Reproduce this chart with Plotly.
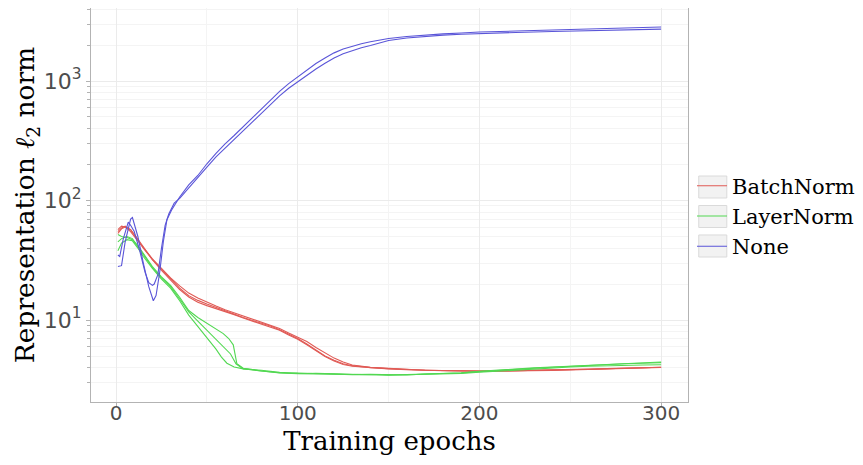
import plotly.graph_objects as go

# ---------------- data ----------------
# None (no normalisation), two seeds
none_a_epoch = [1, 3, 5, 8, 9, 12, 15, 18, 20.5, 22, 24, 26, 28, 30.5, 35, 40, 45, 50, 55, 60, 65, 70, 75, 80, 85,
                90, 95, 100, 105, 110, 115, 120, 125, 130, 135, 140, 150, 160, 170, 180, 190, 200, 220, 240, 260, 280, 300]
none_a_val = [28, 28.5, 45, 70, 72, 50, 30, 19, 14.5, 16, 25, 45, 69, 83, 107, 135, 162, 203, 248, 298, 350, 415, 492, 590, 700,
              820, 950, 1080, 1230, 1400, 1560, 1720, 1850, 1960, 2050, 2130, 2270, 2360, 2430, 2480, 2520, 2570, 2620, 2680, 2730, 2780, 2830]

none_b_epoch = [1, 2, 4, 6.7, 8, 10, 13, 16, 18, 20, 21, 23, 25, 27, 29, 32, 35, 40, 45, 50, 55, 60, 65, 70, 75, 80, 85,
                90, 95, 100, 105, 110, 115, 120, 125, 130, 135, 140, 150, 160, 170, 180, 190, 200, 220, 240, 260, 280, 300]
none_b_val = [35, 34, 48, 66, 62, 55, 38, 25, 20.5, 19.5, 20, 24, 40, 62, 77, 95, 104, 128, 155, 190, 232, 275, 325, 382, 455, 540, 640,
              750, 870, 990, 1120, 1260, 1410, 1560, 1690, 1800, 1900, 1980, 2180, 2290, 2370, 2420, 2460, 2480, 2550, 2600, 2640, 2680, 2720]

# BatchNorm, three seeds
bn_epoch = [1, 3, 5, 8, 11, 15, 20, 25, 30, 35, 40, 45, 50, 55, 60, 65, 70, 75, 80, 85, 90, 95, 100, 105, 110,
            115, 120, 125, 130, 140, 150, 160, 170, 180, 190, 200, 220, 240, 260, 280, 300]
bn1_val = [55, 59, 61, 57, 49, 40, 32, 26.5, 22, 18.5, 16, 14.6, 13.6, 12.7, 11.9, 11.2, 10.5, 9.9, 9.4, 8.9, 8.3, 7.6, 7.0, 6.3, 5.6,
           5.0, 4.6, 4.3, 4.15, 4.0, 3.92, 3.85, 3.8, 3.77, 3.75, 3.74, 3.76, 3.8, 3.87, 3.95, 4.02]
bn2_val = [57, 61, 60, 55, 48, 40.5, 32.5, 27, 22.5, 19.3, 16.8, 15.3, 14.1, 13.1, 12.2, 11.5, 10.8, 10.1, 9.6, 9.1, 8.5, 7.8, 7.2, 6.6, 5.9,
           5.3, 4.8, 4.45, 4.2, 4.02, 3.93, 3.86, 3.8, 3.78, 3.76, 3.75, 3.77, 3.81, 3.88, 3.96, 4.03]
bn3_val = [53, 58, 60, 57, 50, 41, 32, 26, 21.5, 18, 15.6, 14.1, 13.2, 12.5, 11.8, 11.1, 10.4, 9.8, 9.3, 8.8, 8.2, 7.5, 6.9, 6.2, 5.5,
           4.95, 4.55, 4.25, 4.1, 3.98, 3.9, 3.84, 3.79, 3.76, 3.74, 3.73, 3.75, 3.79, 3.86, 3.94, 4.01]

# LayerNorm, three seeds
ln1_epoch = [1, 3, 6, 9, 12, 15, 20, 25, 30, 35, 40, 45, 50, 55, 58, 61, 65, 70, 80, 90, 100, 110, 120, 130, 140,
             150, 160, 170, 180, 190, 200, 210, 220, 230, 240, 250, 260, 270, 280, 290, 300]
ln1_val = [38, 44, 47, 46, 40, 34, 27, 22, 18.5, 14.5, 11, 8.8, 7.2, 5.7, 4.9, 4.35, 4.05, 3.9, 3.8, 3.65, 3.58, 3.55, 3.52, 3.52, 3.48,
           3.47, 3.5, 3.52, 3.55, 3.6, 3.7, 3.8, 3.88, 3.95, 4.02, 4.1, 4.18, 4.24, 4.3, 4.35, 4.4]
ln2_epoch = [1, 3, 6, 9, 12, 15, 20, 25, 30, 35, 40, 45, 50, 55, 60, 63, 66, 70, 80, 90, 100, 110, 120, 130, 140,
             150, 160, 170, 180, 190, 200, 210, 220, 230, 240, 250, 260, 270, 280, 290, 300]
ln2_val = [45, 48, 50, 48, 41, 35, 27.5, 22.5, 19, 15, 11.7, 9.8, 8.2, 6.9, 5.8, 5.2, 4.3, 3.9, 3.75, 3.6, 3.55, 3.58, 3.54, 3.5, 3.52,
           3.5, 3.47, 3.53, 3.56, 3.62, 3.72, 3.82, 3.9, 3.98, 4.05, 4.12, 4.2, 4.26, 4.32, 4.38, 4.45]
ln3_epoch = [1, 3, 6, 9, 12, 15, 20, 25, 30, 35, 40, 45, 50, 55, 59, 62, 64.5, 66.5, 70, 80, 90, 100, 110, 120, 130, 140,
             150, 160, 170, 180, 190, 200, 210, 220, 230, 240, 250, 260, 270, 280, 290, 300]
ln3_val = [52, 50, 49, 47, 42, 36, 28, 23, 19.5, 15.5, 12, 10.5, 9.4, 8.5, 7.7, 7.0, 6.2, 4.3, 3.95, 3.75, 3.62, 3.6, 3.56, 3.5, 3.48, 3.5,
           3.46, 3.48, 3.5, 3.54, 3.58, 3.66, 3.74, 3.82, 3.9, 3.97, 4.04, 4.1, 4.15, 4.18, 4.2, 4.22]

x_ticks = [0, 100, 200, 300]
y_ticks = [10, 100, 1000]
y_ticktext = ["10<sup>1</sup>", "10<sup>2</sup>", "10<sup>3</sup>"]
y_minor = [m * 10 ** k for k in range(0, 4) for m in range(2, 10)]

RED = "#e05a55"
GREEN = "#52d852"
BLUE = "#5a55d8"

series = [
    ("BatchNorm", RED, bn_epoch, bn1_val),
    ("BatchNorm", RED, bn_epoch, bn2_val),
    ("BatchNorm", RED, bn_epoch, bn3_val),
    ("LayerNorm", GREEN, ln1_epoch, ln1_val),
    ("LayerNorm", GREEN, ln2_epoch, ln2_val),
    ("LayerNorm", GREEN, ln3_epoch, ln3_val),
    ("None", BLUE, none_a_epoch, none_a_val),
    ("None", BLUE, none_b_epoch, none_b_val),
]

fig = go.Figure()
seen = set()
for name, col, xs, ys in series:
    fig.add_trace(go.Scatter(
        x=xs, y=ys, mode="lines", name=name, legendgroup=name,
        showlegend=name not in seen,
        line=dict(color=col, width=1.1),
    ))
    seen.add(name)

GRID = "#ebebeb"
MINOR = "#f4f4f4"
BORDER = "#b3b3b3"

# light grey key backgrounds behind the legend symbols (ggplot-style legend keys)
key_boxes = [(0.5736, 0.5178), (0.4987, 0.4429), (0.4239, 0.3680)]
for top, bottom in key_boxes:
    fig.add_shape(type="rect", xref="paper", yref="paper", x0=1.018, x1=1.065, y0=bottom, y1=top,
                  fillcolor="#f2f2f2", line=dict(color="#dadada", width=1), layer="below")

# the page body adds an 8px offset, so the figure is a bit smaller than the window
fig.update_layout(
    width=855, height=457,
    margin=dict(l=83, r=175, t=0, b=63, autoexpand=False),
    paper_bgcolor="white", plot_bgcolor="white",
    font=dict(family="DejaVu Serif", color="black"),
    legend=dict(
        x=1.0067, y=0.472, xanchor="left", yanchor="middle",
        font=dict(family="DejaVu Serif", size=21, color="black"),
        tracegroupgap=0, itemwidth=30, bgcolor="rgba(0,0,0,0)",
    ),
    xaxis=dict(
        range=[-13.8, 314.8], automargin=False,
        tickmode="array", tickvals=x_ticks,
        ticks="outside", ticklen=4, tickcolor=BORDER, ticklabelstandoff=-11,
        tickfont=dict(family="DejaVu Sans", size=20, color="#4d4d4d"),
        showgrid=True, gridcolor=GRID, gridwidth=1,
        minor=dict(dtick=50, tick0=0, showgrid=True, gridcolor=MINOR, gridwidth=1, ticks=""),
        showline=True, linecolor=BORDER, linewidth=1, mirror=True,
        zeroline=False,
        title=dict(text="Training epochs", font=dict(family="DejaVu Serif", size=26, color="black"), standoff=7),
    ),
    yaxis=dict(
        type="log", range=[0.314, 3.611], automargin=False,
        tickmode="array", tickvals=y_ticks, ticktext=y_ticktext,
        ticks="outside", ticklen=4, tickcolor=BORDER,
        tickfont=dict(family="DejaVu Sans", size=22, color="#4d4d4d"),
        showgrid=True, gridcolor=GRID, gridwidth=1,
        minor=dict(tickmode="array", tickvals=y_minor, ticks="outside", ticklen=3, tickcolor=BORDER,
                   showgrid=True, gridcolor=MINOR, gridwidth=1),
        showline=True, linecolor=BORDER, linewidth=1, mirror=True,
        zeroline=False,
        title=dict(text="Representation <i>ℓ</i><sub>2</sub> norm",
                   font=dict(family="DejaVu Serif", size=26.5, color="black"), standoff=0),
    ),
)

fig.write_html("out.html")
